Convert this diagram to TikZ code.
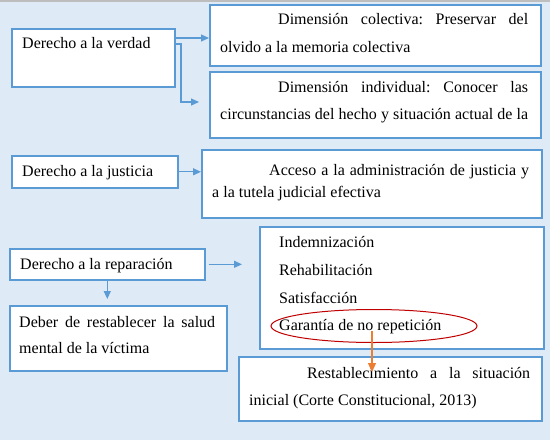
\documentclass[tikz,border=0pt]{standalone}
\usepackage{fontspec}
\setmainfont{Liberation Serif}
\usetikzlibrary{arrows.meta,calc,shapes.geometric}
\definecolor{bg}{RGB}{222,234,246}
\definecolor{boxblue}{RGB}{91,155,213}
\definecolor{ored}{RGB}{192,0,0}
\definecolor{oorange}{RGB}{237,125,49}
\definecolor{topgray}{RGB}{190,190,190}
\frenchspacing
\begin{document}
\begin{tikzpicture}[x=1pt,y=-1pt,
  box/.style={draw=boxblue, line width=1.6pt, fill=white, anchor=north west, inner sep=0},
  txt/.style={anchor=base west, inner sep=0, font=\fontsize{16}{19}\selectfont},
  arr/.style={draw=boxblue, line width=1.2pt, -{Triangle[length=8pt,width=7pt]}},
  oarr/.style={draw=oorange, line width=1.2pt, -{Triangle[length=9pt,width=8pt]}}]
\useasboundingbox (0,0) rectangle (550,440);
\fill[bg] (0,0) rectangle (550,440);
\fill[topgray] (0,0) rectangle (550,2);
% boxes
\node[box, minimum width=163pt, minimum height=58pt] (verdad) at (11,28) {};
\node[box, minimum width=331pt, minimum height=61pt] (colec) at (209,4) {};
\node[box, minimum width=331pt, minimum height=66pt] (indiv) at (209,71) {};
\node[box, minimum width=166pt, minimum height=32pt] (just) at (11,155) {};
\node[box, minimum width=340pt, minimum height=68pt] (acceso) at (201,149) {};
\node[box, minimum width=195pt, minimum height=31pt] (repar) at (9,248) {};
\node[box, minimum width=217pt, minimum height=65pt] (deber) at (9,305) {};
\node[box, minimum width=284pt, minimum height=122pt] (lista) at (259,226) {};
\node[box, minimum width=303pt, minimum height=64pt] (restab) at (238,356) {};
% texts
\node[txt] (t1) at (22,48) {Derecho a la verdad};
\node[txt] (t2) at (278,24) {\makebox[250pt][s]{Dimensión colectiva: Preservar del}};
\node[txt] (t3) at (220,52) {olvido a la memoria colectiva};
\node[txt] (t4) at (278,92) {\makebox[250pt][s]{Dimensión individual: Conocer las}};
\node[txt] (t5) at (220,119) {\makebox[308pt][s]{circunstancias del hecho y situación actual de la}};
\node[txt] (t6) at (22,176) {Derecho a la justicia};
\node[txt] (t7) at (269,175) {\makebox[260pt][s]{Acceso a la administración de justicia y}};
\node[txt] (t8) at (212,197) {a la tutela judicial efectiva};
\node[txt] (t9) at (20,269) {Derecho a la reparación};
\node[txt] (t10) at (19,327) {\makebox[196pt][s]{Deber de restablecer la salud}};
\node[txt] (t11) at (19,353) {mental de la víctima};
\node[txt] (t12) at (279,247) {Indemnización};
\node[txt] (t13) at (279,275) {Rehabilitación};
\node[txt] (t14) at (279,303) {Satisfacción};
\node[txt] (t15) at (279,330) {Garantía de no repetición};
\node[txt] (t16) at (307,378) {\makebox[223pt][s]{Restablecimiento a la situación}};
\node[txt] (t17) at (249,405) {inicial (Corte Constitucional, 2013)};
% ellipse
\node[draw=ored, line width=1pt, ellipse, minimum width=206pt, minimum height=33pt, inner sep=0] (elip) at (374,326) {};
% connectors
\draw[arr] ($(verdad.north east)+(0,10)$) -- ($(colec.north west)+(0,34)$);
\draw[arr, shorten >=10pt] ($(verdad.north east)+(0,16)$) -| ($(indiv.north west)+(-28,31)$) -- ($(indiv.north west)+(0,31)$);
\draw[arr] (just.east) -- (just.east -| acceso.west);
\draw[arr, shorten <=3pt, shorten >=17pt] (repar.east) -- (repar.east -| lista.west);
\draw[arr, shorten >=6pt] (repar.south) -- (repar.south |- deber.north);
\draw[oarr] ($(elip.center)+(-2,5)$) -- ($(restab.north west)+(134,16)$);
\end{tikzpicture}
\end{document}
